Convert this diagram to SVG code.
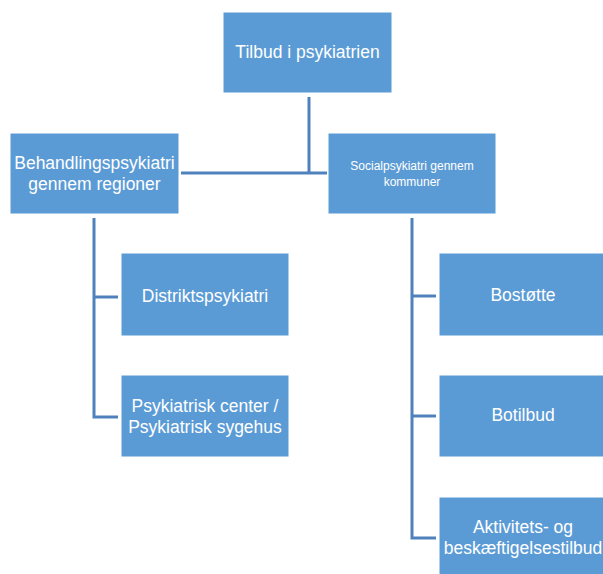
<svg xmlns="http://www.w3.org/2000/svg" width="603" height="574" viewBox="0 0 603 574">
<style>
.box{fill:#5b9bd5;stroke:#ffffff;stroke-width:1}
.t{font-family:"Liberation Sans",Arial,sans-serif;font-size:17.5px;fill:#ffffff;text-anchor:middle}
.s{font-family:"Liberation Sans",Arial,sans-serif;font-size:12px;fill:#ffffff;text-anchor:middle}
.c{fill:none;stroke:#4f81bd;stroke-width:3}
</style>
<rect width="603" height="574" fill="#ffffff"/>
<g id="connectors">
<path class="c" d="M309,97 V173 M181,173 H327"/>
<path class="c" d="M94,218 V417 H118 M94,297 H118"/>
<path class="c" d="M412,218 V538 H436 M412,296 H436 M412,416 H436"/>
</g>
<g id="root"><rect class="box" x="223" y="12" width="169" height="81"/><text class="t" x="307.5" y="58">Tilbud i psykiatrien</text></g>
<g id="behandling"><rect class="box" x="10" y="133" width="169" height="81"/><text class="t" x="94.5" y="169">Behandlingspsykiatri</text><text class="t" x="94.5" y="190">gennem regioner</text></g>
<g id="social"><rect class="box" x="328" y="133" width="168" height="81"/><text class="s" x="412" y="170">Socialpsykiatri gennem</text><text class="s" x="412" y="186">kommuner</text></g>
<g id="distrikt"><rect class="box" x="121" y="253" width="168" height="83"/><text class="t" x="205" y="302">Distriktspsykiatri</text></g>
<g id="center"><rect class="box" x="121" y="375" width="168" height="82"/><text class="t" x="205" y="412">Psykiatrisk center /</text><text class="t" x="205" y="433">Psykiatrisk sygehus</text></g>
<g id="bostotte"><rect class="box" x="439" y="253" width="168" height="83"/><text class="t" x="523" y="301">Bostøtte</text></g>
<g id="botilbud"><rect class="box" x="439" y="375" width="168" height="82"/><text class="t" x="523" y="421">Botilbud</text></g>
<g id="aktivitet"><rect class="box" x="439" y="497" width="168" height="82"/><text class="t" x="523" y="533">Aktivitets- og</text><text class="t" x="523" y="554">beskæftigelsestilbud</text></g>
</svg>
